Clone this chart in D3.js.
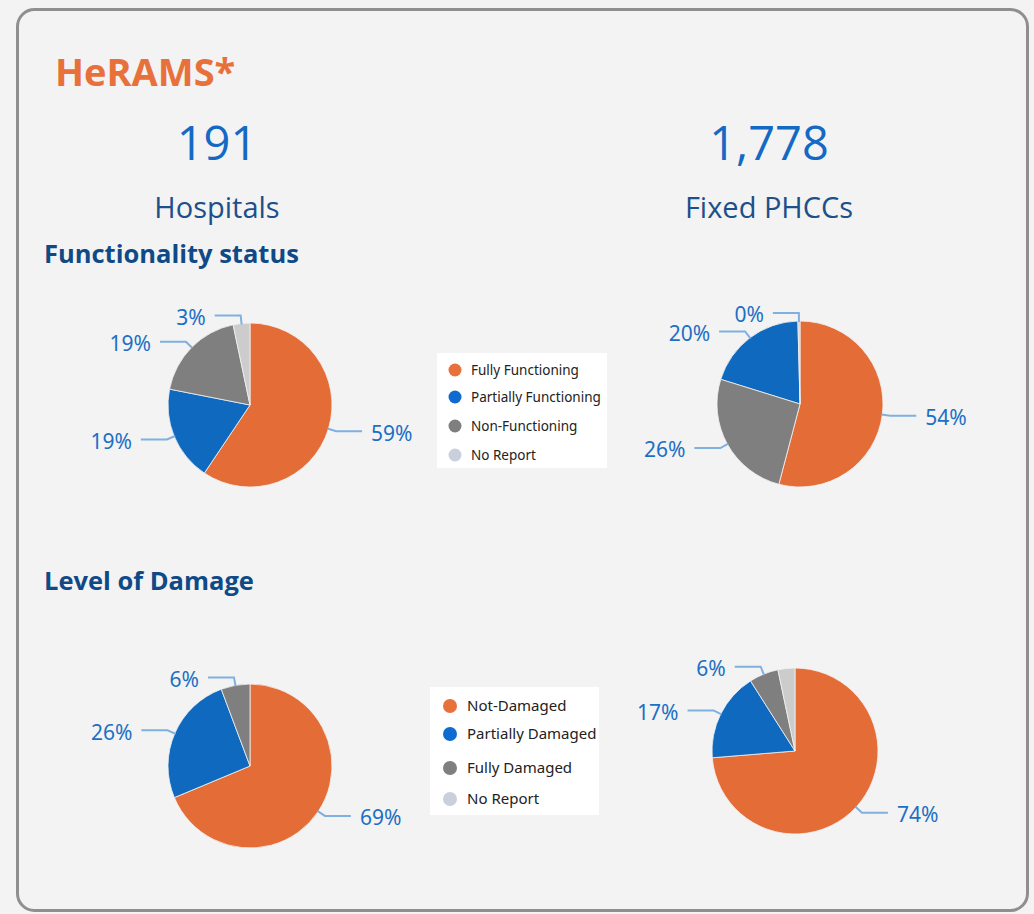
<!DOCTYPE html>
<html>
<head>
<meta charset="utf-8">
<script src="https://cdn.jsdelivr.net/npm/d3@7"></script>
<style>
  html, body { margin: 0; padding: 0; background: #f3f3f3; }
  svg { display: block; }
</style>
</head>
<body>
<svg width="1034" height="914"></svg>
<script>
// categories and values
var functionCats = ["Fully Functioning", "Partially Functioning", "Non-Functioning", "No Report"];
var damageCats = ["Not-Damaged", "Partially Damaged", "Fully Damaged", "No Report"];

var hospitalFunction = [59.4, 18.7, 18.6, 3.3];
var phccFunction = [54.1, 19.8, 25.7, 0.4];
var hospitalDamage = [68.7, 25.6, 5.7, 0];
var phccDamage = [73.7, 17.3, 5.7, 3.3];

var totals = [
  {value: 191, name: "Hospitals"},
  {value: 1778, name: "Fixed PHCCs"}
];

var sliceColors = ["#e46c37", "#0f69be", "#7f7f7f", "#cccccc"];
var legendColors = ["#e8703a", "#0f6bcf", "#7f7f7f", "#c9d0dc"];

var svg = d3.select("svg");

svg.append("rect")
    .attr("x", 17.5).attr("y", 9.5)
    .attr("width", 1010).attr("height", 901)
    .attr("rx", 17)
    .attr("fill", "#f3f3f3")
    .attr("stroke", "#8f8f8f")
    .attr("stroke-width", 3);

svg.append("text")
    .attr("x", 55).attr("y", 86)
    .attr("font-family", "Open Sans")
    .attr("font-weight", 700)
    .attr("font-size", 38)
    .attr("fill", "#e8703a")
    .text("HeRAMS*");

var totalX = [217, 769];
var fmt = d3.format(",");

svg.selectAll(".total")
    .data(totals)
  .enter().append("text")
    .attr("class", "total")
    .attr("x", function(d, i) { return totalX[i]; })
    .attr("y", 160)
    .attr("text-anchor", "middle")
    .attr("font-family", "Open Sans")
    .attr("font-size", 47)
    .attr("fill", "#1469c4")
    .text(function(d) { return fmt(d.value); });

svg.selectAll(".total-name")
    .data(totals)
  .enter().append("text")
    .attr("class", "total-name")
    .attr("x", function(d, i) { return totalX[i]; })
    .attr("y", 218)
    .attr("text-anchor", "middle")
    .attr("font-family", "Open Sans")
    .attr("font-size", 29)
    .attr("fill", "#1d4f8b")
    .text(function(d) { return d.name; });

[["Functionality status", 263], ["Level of Damage", 590]].forEach(function(t) {
  svg.append("text")
      .attr("x", 44).attr("y", t[1])
      .attr("font-family", "Open Sans")
      .attr("font-weight", 700)
      .attr("font-size", 25.5)
      .attr("fill", "#0f4a87")
      .text(t[0]);
});

var pies = [
  {values: hospitalFunction, cats: functionCats, cx: 250, cy: 405, r: 82, hide: []},
  {values: phccFunction, cats: functionCats, cx: 800, cy: 404, r: 83, hide: []},
  {values: hospitalDamage, cats: damageCats, cx: 250, cy: 766, r: 82, hide: []},
  {values: phccDamage, cats: damageCats, cx: 795, cy: 751, r: 83, hide: ["No Report"]}
];

var pie = d3.pie().value(function(d) { return d.value; }); // default sort: descending

pies.forEach(function(p) {
  var color = d3.scaleOrdinal().domain(p.cats).range(sliceColors);
  var data = p.cats.map(function(c, i) { return {cat: c, value: p.values[i]}; });
  var arcs = pie(data);
  var arc = d3.arc().innerRadius(0).outerRadius(p.r);

  var g = svg.append("g")
      .attr("transform", "translate(" + p.cx + "," + p.cy + ")");

  g.selectAll("path.slice")
      .data(arcs.filter(function(d) { return d.data.value > 0; }))
    .enter().append("path")
      .attr("class", "slice")
      .attr("d", arc)
      .attr("fill", function(d) { return color(d.data.cat); })
      .attr("stroke", "#f3f3f3")
      .attr("stroke-width", 0.8);

  var labelled = arcs.filter(function(d) {
    return d.data.value > 0 && p.hide.indexOf(d.data.cat) < 0;
  });

  function pt(a, rad) { return [rad * Math.sin(a), -rad * Math.cos(a)]; }

  var lab = g.selectAll("g.lab")
      .data(labelled)
    .enter().append("g")
      .attr("class", "lab");

  lab.append("polyline")
      .attr("fill", "none")
      .attr("stroke", "#80b0e0")
      .attr("stroke-width", 2)
      .attr("points", function(d) {
        var a = (d.startAngle + d.endAngle) / 2,
            s = a > Math.PI ? -1 : 1,
            p0 = pt(a, p.r - 1),
            p1 = pt(a, p.r + 8),
            p2 = [p1[0] + s * 26, p1[1]];
        return [p0, p1, p2].join(" ");
      });

  lab.append("text")
      .attr("x", function(d) {
        var a = (d.startAngle + d.endAngle) / 2,
            s = a > Math.PI ? -1 : 1;
        return pt(a, p.r + 8)[0] + s * 35;
      })
      .attr("y", function(d) {
        var a = (d.startAngle + d.endAngle) / 2;
        return pt(a, p.r + 8)[1] + 2;
      })
      .attr("dy", "0.35em")
      .attr("text-anchor", function(d) {
        return (d.startAngle + d.endAngle) / 2 > Math.PI ? "end" : "start";
      })
      .attr("font-family", "Noto Sans")
      .attr("font-size", 21)
      .attr("fill", "#1c6fc4")
      .text(function(d) { return Math.round(d.data.value) + "%"; });
});

// legends
var legends = [
  {cats: functionCats, x: 437, y: 353, w: 170, h: 115, ys: [370, 397, 426, 455], dx: 18, tx: 34, size: 13.5, r: 6.5},
  {cats: damageCats, x: 430, y: 687, w: 169, h: 128, ys: [706, 734, 768, 799], dx: 20, tx: 37, size: 15, r: 7}
];

legends.forEach(function(l) {
  var color = d3.scaleOrdinal().domain(l.cats).range(legendColors);
  svg.append("rect")
      .attr("x", l.x).attr("y", l.y)
      .attr("width", l.w).attr("height", l.h)
      .attr("fill", "#ffffff");
  var item = svg.selectAll(null)
      .data(l.cats)
    .enter().append("g")
      .attr("transform", function(d, i) { return "translate(" + l.x + "," + l.ys[i] + ")"; });
  item.append("circle")
      .attr("cx", l.dx)
      .attr("r", l.r)
      .attr("fill", function(d) { return color(d); });
  item.append("text")
      .attr("x", l.tx)
      .attr("dy", "0.35em")
      .attr("font-family", "Noto Sans")
      .attr("font-size", l.size)
      .attr("fill", "#222")
      .text(function(d) { return d; });
});
</script>
</body>
</html>
